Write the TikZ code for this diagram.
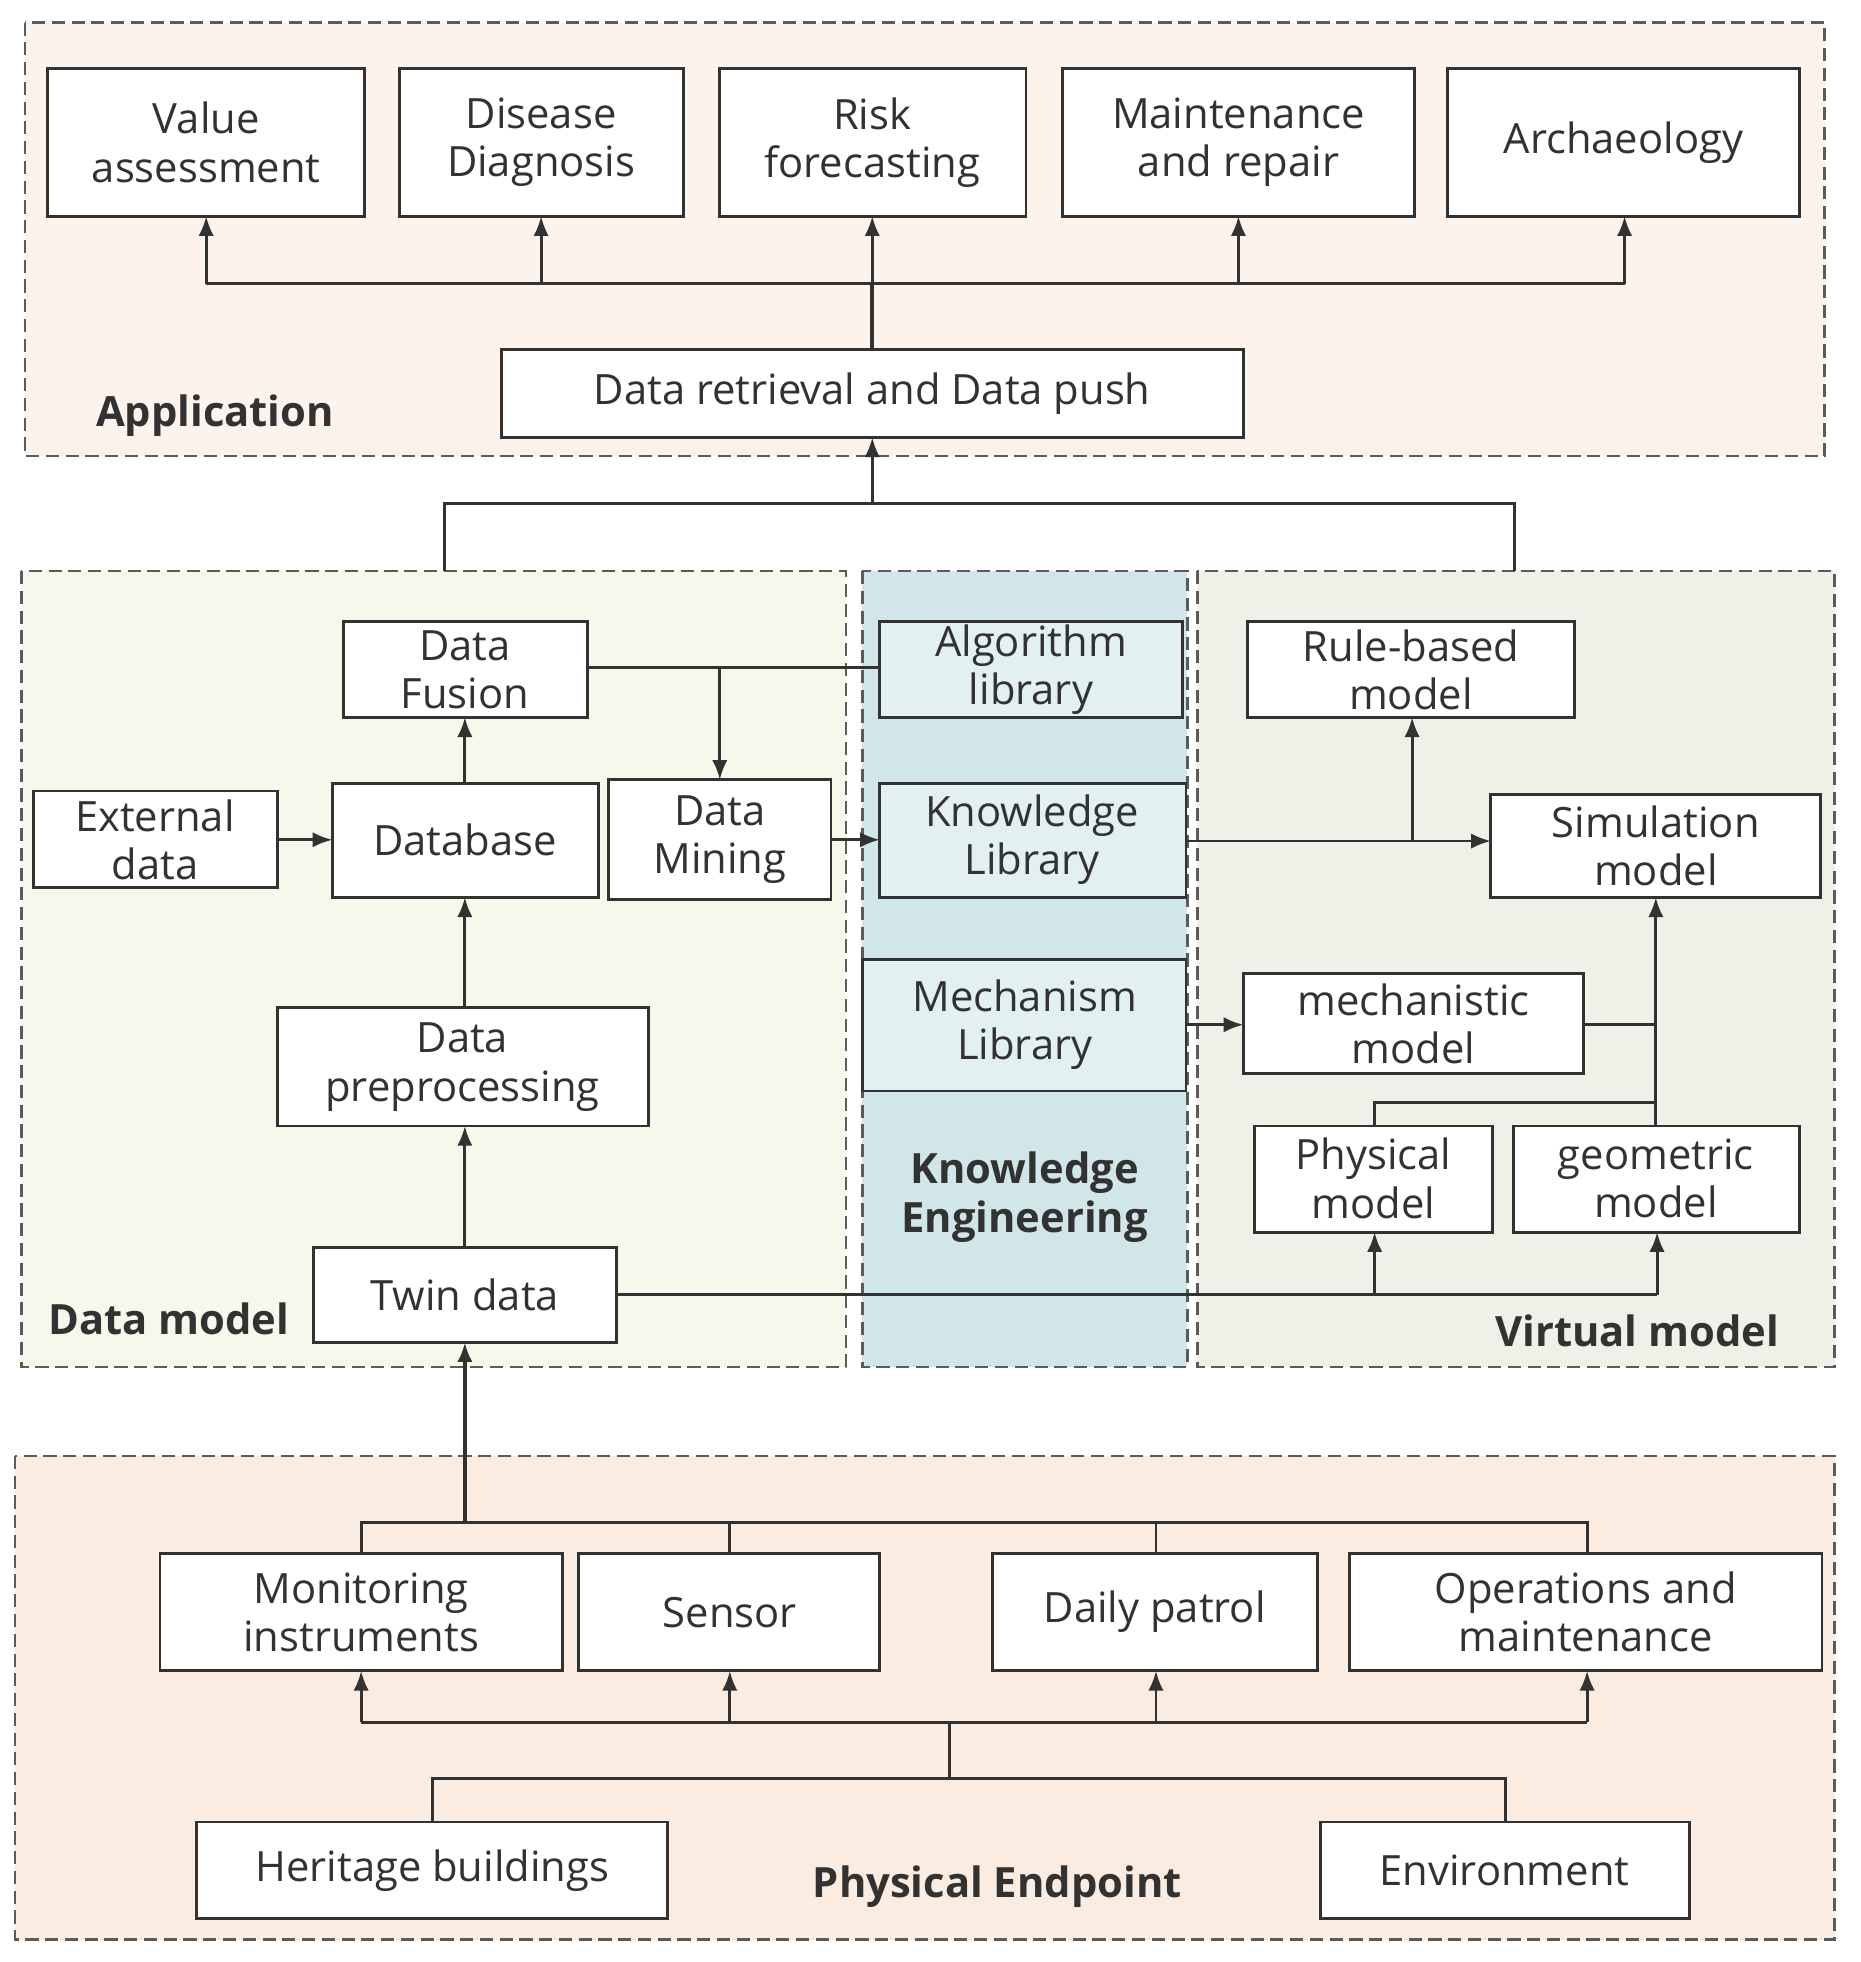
\documentclass[tikz,border=0pt]{standalone}
\usepackage{fontspec}
\setmainfont{Open Sans}
\usetikzlibrary{arrows.meta}
\definecolor{apbg}{RGB}{253,243,237}
\definecolor{dmbg}{RGB}{247,248,236}
\definecolor{kebg}{RGB}{208,230,232}
\definecolor{kbox}{RGB}{226,240,241}
\definecolor{vmbg}{RGB}{240,240,232}
\definecolor{pebg}{RGB}{250,236,224}
\definecolor{ln}{RGB}{50,50,50}
\begin{document}
\begin{tikzpicture}[x=0.02cm,y=-0.02cm,
 panel/.style={draw=ln!80,dashed,line width=1.2pt,dash pattern=on 6pt off 3pt},
 box/.style={draw=ln,line width=1.3pt,fill=white},
 t/.style={font=\fontsize{19}{22}\selectfont,align=center,text=ln},
 lbl/.style={font=\fontsize{19}{22}\selectfont\bfseries,text=ln},
 c/.style={draw=ln,line width=1.3pt},
 a/.style={c,-{Latex[length=9pt,width=7pt]}}]
\useasboundingbox (0,0) rectangle (1489,1570);
% panels
\draw[panel,fill=apbg] (20,18) rectangle (1460,365);
\draw[panel,fill=dmbg] (17,457) rectangle (677,1094);
\draw[panel,fill=kebg] (690,457) rectangle (950,1094);
\draw[panel,fill=vmbg] (958,457) rectangle (1468,1094);
\draw[panel,fill=pebg] (12,1165) rectangle (1468,1552);
% boxes macro
\newcommand{\bx}[6][white]{\draw[box,fill=#1] (#2) rectangle (#3); \node[t] (#4) at ($(#2)!0.5!(#3)$) {#5};}
\path (38,55) rectangle (292,173) node[pos=.5,t] {};
\draw[box] (38,55) rectangle (292,173) coordinate (va2); \node[t] (va) at (165,114) {Value\\assessment};
\draw[box] (320,55) rectangle (547,173); \node[t] (dd) at (433,114) {Disease\\Diagnosis};
\draw[box] (576,55) rectangle (821,173); \node[t] (rf) at (698,114) {Risk\\forecasting};
\draw[box] (850,55) rectangle (1132,173); \node[t] (mr) at (991,114) {Maintenance\\and repair};
\draw[box] (1158,55) rectangle (1440,173); \node[t] (ar) at (1299,114) {Archaeology};
\draw[box] (401,280) rectangle (995,350); \node[t] (dr) at (698,315) {Data retrieval and Data push};
\node[lbl] (apl) at (172,333) {Application};
\coordinate (busA) at (698,227);
\draw[c,line width=2pt] (698,280) -- (busA);
\draw[c] (165,227) -- (1300,227);
\foreach \x in {165,433,698,991,1300} \draw[a] (\x,227) -- (\x,173);
% to application
\draw[c] (356,457) -- (356,403) -- (1212,403) -- (1212,457);
\draw[a] (698,403) -- (698,350);
% data model
\draw[box] (275,497) rectangle (470,574); \node[t] (df) at (372,536) {Data\\Fusion};
\draw[box] (27,633) rectangle (222,710); \node[t] (ed) at (124,672) {External\\data};
\draw[box] (266,627) rectangle (479,718); \node[t] (db) at (372,672) {Database};
\draw[box] (487,624) rectangle (665,720); \node[t] (dmn) at (576,672) {Data\\Mining};
\draw[box] (222,806) rectangle (519,901); \node[t] (dp) at (370,854) {Data\\preprocessing};
\draw[box] (251,998) rectangle (493,1074); \node[t] (td) at (372,1036) {Twin data};
\node[lbl] (dml) at (135,1055) {Data model};
% knowledge
\draw[box,fill=kbox] (704,497) rectangle (946,574); \node[t] (al) at (825,536) {Algorithm\\library};
\draw[box,fill=kbox] (704,627) rectangle (949,718); \node[t] (kl) at (826,672) {Knowledge\\Library};
\draw[box,fill=kbox] (690,768) rectangle (949,873); \node[t] (ml) at (820,820) {Mechanism\\Library};
\node[lbl,align=center] (kel) at (820,958) {Knowledge\\Engineering};
% virtual
\draw[box] (998,497) rectangle (1260,574); \node[t] (rb) at (1129,536) {Rule-based\\model};
\draw[box] (1193,636) rectangle (1457,718); \node[t] (sm) at (1325,677) {Simulation\\model};
\draw[box] (995,779) rectangle (1267,859); \node[t] (mm) at (1131,819) {mechanistic\\model};
\draw[box] (1004,901) rectangle (1194,986); \node[t] (pm) at (1099,943) {Physical\\model};
\draw[box] (1211,901) rectangle (1440,986); \node[t] (gm) at (1325,943) {geometric\\model};
\node[lbl] (vml) at (1310,1065) {Virtual model};
% data connectors
\draw[a] (222,672) -- (266,672);
\draw[a] (372,627) -- (372,574);
\draw[a] (372,806) -- (372,718);
\draw[a] (372,998) -- (372,901);
\draw[c] (470,534) -- (704,534);
\draw[a] (576,534) -- (576,624);
\draw[a] (665,672) -- (704,672);
\draw[a] (949,673) -- (1193,673);
\draw[a] (1130,673) -- (1130,574);
\draw[a] (949,820) -- (995,820);
\draw[c] (1267,820) -- (1325,820);
\draw[c] (1100,901) -- (1100,882) -- (1325,882);
\draw[a] (1325,901) -- (1325,718);
\draw[c] (493,1036) -- (1326,1036);
\draw[a] (1100,1036) -- (1100,986);
\draw[a] (1326,1036) -- (1326,986);
% physical
\draw[box] (128,1243) rectangle (450,1337); \node[t] (mi) at (289,1290) {Monitoring\\instruments};
\draw[box] (463,1243) rectangle (704,1337); \node[t] (se) at (584,1290) {Sensor};
\draw[box] (794,1243) rectangle (1054,1337); \node[t] (dpt) at (924,1290) {Daily patrol};
\draw[box] (1080,1243) rectangle (1458,1337); \node[t] (om) at (1269,1290) {Operations and\\maintenance};
\draw[box] (157,1458) rectangle (534,1535); \node[t] (hb) at (346,1497) {Heritage buildings};
\draw[box] (1057,1458) rectangle (1352,1535); \node[t] (en) at (1204,1497) {Environment};
\node[lbl] (pel) at (798,1510) {Physical Endpoint};
\draw[c] (289,1243) -- (289,1218) -- (1270,1218) -- (1270,1243);
\draw[c] (584,1218) -- (584,1243); \draw[c] (925,1218) -- (925,1243);
\draw[a,line width=2pt] (372,1218) -- (372,1074);
\draw[c] (289,1378) -- (1270,1378);
\foreach \x in {289,584,925,1270} \draw[a] (\x,1378) -- (\x,1337);
\draw[c] (760,1378) -- (760,1423);
\draw[c] (346,1458) -- (346,1423) -- (1205,1423) -- (1205,1458);
\end{tikzpicture}
\end{document}
